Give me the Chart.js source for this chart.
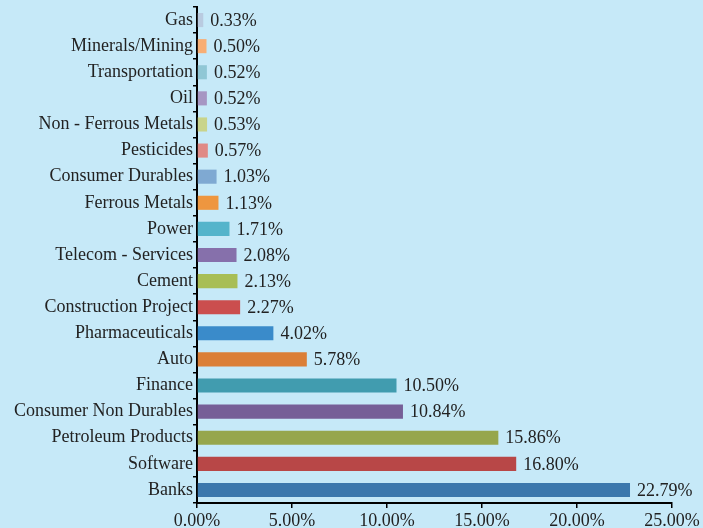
<!DOCTYPE html>
<html><head><meta charset="utf-8">
<script src="https://cdn.jsdelivr.net/npm/chart.js@4"></script>
<style>html,body{margin:0;padding:0;background:#C6E9F8;}#wrap{width:703px;height:528px;}</style>
</head><body><div id="wrap"><canvas id="c" width="703" height="528"></canvas></div>
<script>
const categories = ["Gas","Minerals/Mining","Transportation","Oil","Non - Ferrous Metals","Pesticides","Consumer Durables","Ferrous Metals","Power","Telecom - Services","Cement","Construction Project","Pharmaceuticals","Auto","Finance","Consumer Non Durables","Petroleum Products","Software","Banks"];
const values = [0.33,0.50,0.52,0.52,0.53,0.57,1.03,1.13,1.71,2.08,2.13,2.27,4.02,5.78,10.50,10.84,15.86,16.80,22.79];
const barColors = ["#B9CBE0","#F8AE74","#90C7D5","#A696C3","#C9D48B","#E08A86","#7FA9D2","#EE963F","#54B4CB","#8670AB","#A8BE55","#CB4E4E","#3A8BCA","#DB7F37","#419CAF","#765F97","#96A64C","#B84747","#3C78AD"];
const xTicks = [0,5,10,15,20,25];
const FONT = "'Liberation Serif', 'DejaVu Serif', serif";

const labelPlugin = {
  id:'barLabels',
  afterDatasetsDraw(chart){
    const ctx = chart.ctx;
    const meta = chart.getDatasetMeta(0);
    ctx.save();
    ctx.font = "18px " + FONT;
    ctx.fillStyle = "#222";
    ctx.textAlign = "left";
    ctx.textBaseline = "middle";
    meta.data.forEach((el,i)=>{
      ctx.fillText(values[i].toFixed(2)+"%", el.x+7, el.y+1);
    });
    ctx.restore();
  }
};

new Chart(document.getElementById('c'), {
  type:'bar',
  data:{labels:categories, datasets:[{data:values, backgroundColor:barColors, borderWidth:0, barPercentage:0.54, categoryPercentage:1}]},
  options:{
    indexAxis:'y', responsive:false, animation:false,
    layout:{padding:{top:7,right:31,left:0,bottom:0}},
    plugins:{legend:{display:false}, tooltip:{enabled:false}},
    scales:{
      x:{min:0,max:25,
        afterBuildTicks(s){ s.ticks = xTicks.map(v=>({value:v})); },
        afterFit(s){ s.height = 25; s.paddingRight = 0; },
        border:{display:true,color:'#000',width:2},
        grid:{drawOnChartArea:false, drawTicks:true, tickLength:5, color:'#000', lineWidth:1.5},
        ticks:{color:'#222', padding:2, maxRotation:0, font:{family:FONT,size:18}, callback:v=>v.toFixed(2)+"%"}
      },
      y:{
        afterFit(s){ s.width = 197; s.paddingTop = 0; s.paddingBottom = 0; },
        border:{display:true,color:'#000',width:2},
        grid:{drawOnChartArea:false, drawTicks:true, tickLength:4, color:'#000', lineWidth:1.5, offset:true},
        ticks:{color:'#222', padding:0, font:{family:FONT,size:18}}
      }
    }
  },
  plugins:[labelPlugin]
});
</script></body></html>
